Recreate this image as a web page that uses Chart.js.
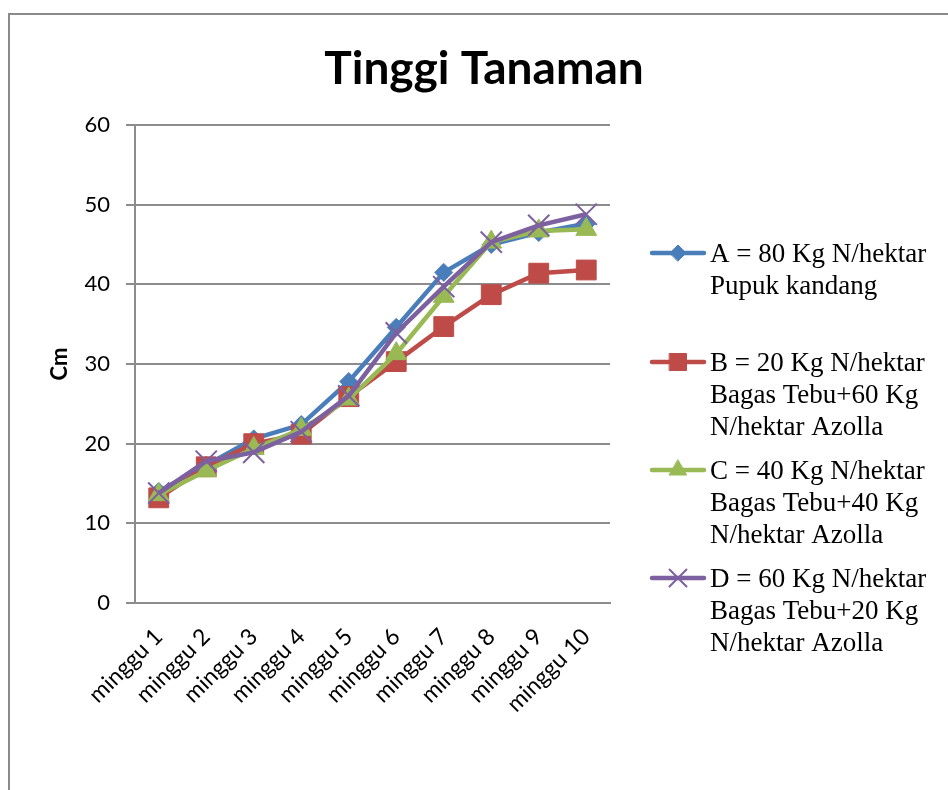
<!DOCTYPE html>
<html>
<head>
<meta charset="utf-8">
<script src="https://cdn.jsdelivr.net/npm/chart.js@4/dist/chart.umd.min.js"></script>
<style>
  html, body { margin:0; padding:0; background:#fff; }
  #wrap { position:relative; width:948px; height:790px; overflow:hidden; }
  #frame { position:absolute; left:8px; top:13px; width:1000px; height:900px; border:2px solid #8a8a8a; }
  canvas { position:absolute; left:0; top:0; }
</style>
</head>
<body>
<div id="wrap">
  <div id="frame"></div>
  <canvas id="chart" width="948" height="790"></canvas>
</div>
<script>
const weeks = ['minggu 1','minggu 2','minggu 3','minggu 4','minggu 5','minggu 6','minggu 7','minggu 8','minggu 9','minggu 10'];
const serA = [14.0, 17.3, 20.6, 22.4, 27.8, 34.6, 41.5, 45.0, 46.5, 47.6];
const serB = [13.2, 17.1, 20.0, 21.2, 25.9, 30.3, 34.7, 38.7, 41.4, 41.8];
const serC = [13.6, 16.6, 19.4, 21.8, 25.6, 31.3, 38.5, 45.3, 46.7, 46.9];
const serD = [13.8, 17.8, 18.9, 21.5, 26.0, 33.9, 39.7, 45.3, 47.4, 48.8];
const legendLines = [
  ['A = 80 Kg N/hektar','Pupuk kandang'],
  ['B = 20 Kg N/hektar','Bagas Tebu+60 Kg','N/hektar Azolla'],
  ['C = 40 Kg N/hektar','Bagas Tebu+40 Kg','N/hektar Azolla'],
  ['D = 60 Kg N/hektar','Bagas Tebu+20 Kg','N/hektar Azolla']
];

const GRID = '#8c8c8c';
const styles = [
  { color:'#4A7EBB', point:'rectRot',  r:9,  lr:8,  bw:1 },
  { color:'#BE4B48', point:'rect',     r:14, lr:12, bw:1 },
  { color:'#98B954', point:'triangle', r:12, lr:10, bw:1 },
  { color:'#7D60A0', point:'crossRot', r:15, lr:12, bw:2 }
];

function mkSet(label, data, s, order) {
  return {
    label, data, order,
    borderColor:s.color, backgroundColor:s.color,
    borderWidth:4.5, tension:0,
    pointStyle:s.point, pointRadius:s.r, pointHoverRadius:s.r,
    pointBackgroundColor:s.color, pointBorderColor:s.color, pointBorderWidth:s.bw
  };
}

// title + right-hand legend drawn on the canvas
const decor = {
  id:'decor',
  afterDraw(chart) {
    const ctx = chart.ctx;
    ctx.save();
    ctx.fillStyle = '#000';
    ctx.font = 'bold 46px Lato';
    ctx.textAlign = 'center';
    ctx.textBaseline = 'alphabetic';
    ctx.fillText('Tinggi Tanaman', 484, 84);

    const ys = [253, 362, 470, 578];
    ctx.font = '27px "Liberation Serif"';
    ctx.textAlign = 'left';
    legendLines.forEach((lines, i) => {
      const s = styles[i], y = ys[i];
      ctx.strokeStyle = s.color;
      ctx.lineWidth = 4.5;
      ctx.lineCap = 'round';
      ctx.beginPath(); ctx.moveTo(652, y); ctx.lineTo(704, y); ctx.stroke();
      ctx.fillStyle = s.color;
      ctx.lineWidth = s.bw;
      Chart.helpers.drawPoint(ctx, { pointStyle:s.point, rotation:0, radius:s.lr, borderWidth:s.bw }, 678, y);
      ctx.fillStyle = '#000';
      lines.forEach((t, k) => ctx.fillText(t, 710, y + 9 + k*32));
    });
    ctx.restore();
  }
};

new Chart(document.getElementById('chart'), {
  type:'line',
  data:{
    labels:weeks,
    datasets:[
      mkSet(legendLines[0].join(' '), serA, styles[0], 4),
      mkSet(legendLines[1].join(' '), serB, styles[1], 3),
      mkSet(legendLines[2].join(' '), serC, styles[2], 2),
      mkSet(legendLines[3].join(' '), serD, styles[3], 1)
    ]
  },
  options:{
    responsive:false, animation:false,
    layout:{ padding:{ left:0, top:125, right:338, bottom:0 } },
    plugins:{ legend:{display:false}, title:{display:false}, tooltip:{enabled:false} },
    scales:{
      x:{
        offset:true,
        grid:{ display:true, offset:true, drawOnChartArea:false, drawTicks:false },
        border:{ display:true, color:GRID, width:2 },
        ticks:{ color:'#000', font:{family:'Lato', size:23}, minRotation:45, maxRotation:45, padding:20, autoSkip:false },
        afterFit(s){ s.height = 187; }
      },
      y:{
        min:0, max:60,
        grid:{ color:GRID, lineWidth:2, tickLength:9, tickColor:GRID },
        border:{ display:true, color:GRID, width:2 },
        ticks:{ stepSize:10, color:'#000', font:{family:'Lato', size:22}, padding:16 },
        title:{ display:true, text:'Cm', color:'#000', font:{family:'Lato', size:22, weight:'bold'}, padding:{top:47, bottom:0} },
        afterFit(s){ s.width = 135; }
      }
    }
  },
  plugins:[decor]
});
</script>
</body>
</html>
